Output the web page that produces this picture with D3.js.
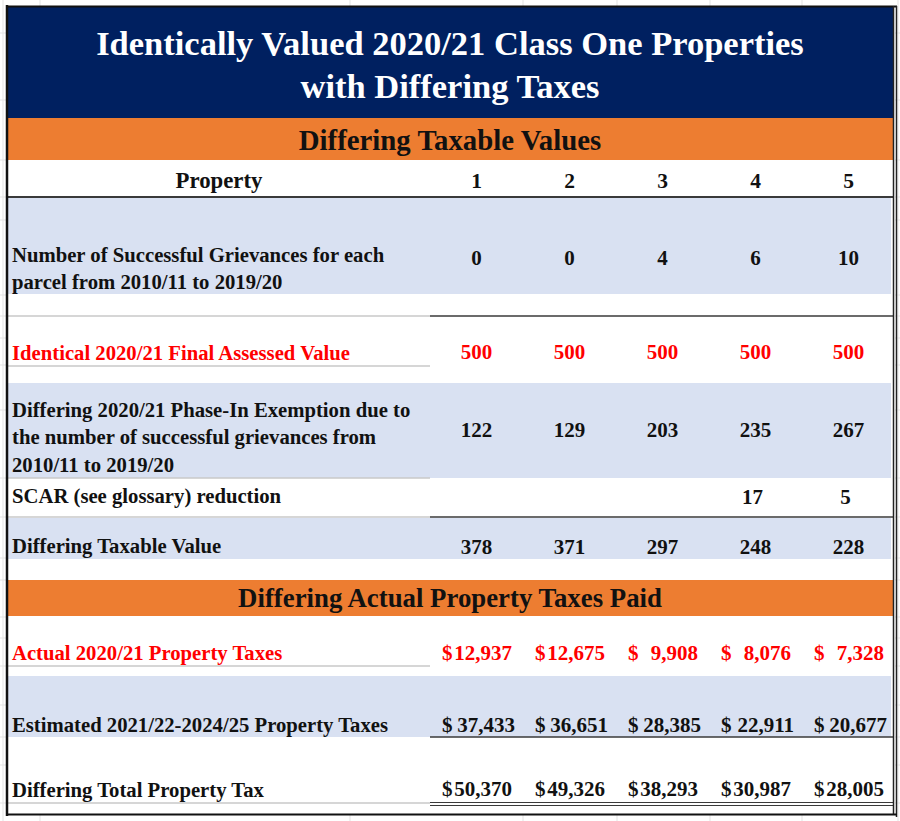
<!DOCTYPE html>
<html><head><meta charset="utf-8">
<script src="https://cdn.jsdelivr.net/npm/d3@7"></script>
<style>
body{margin:0;background:#fff}
svg{display:block}
text{font-family:"Liberation Serif","Times New Roman",serif;font-weight:bold}
</style>
</head><body>
<svg id="chart" width="900" height="821"></svg>
<script>
// ---------- data ----------
const titleLines = ["Identically Valued 2020/21 Class One Properties", "with Differing Taxes"];
const section1 = "Differing Taxable Values";
const section2 = "Differing Actual Property Taxes Paid";
const headerLabel = "Property";
const properties = ["1", "2", "3", "4", "5"];
const grievances = [0, 0, 4, 6, 10];
const assessedValue = [500, 500, 500, 500, 500];
const phaseInExemption = [122, 129, 203, 235, 267];
const scarReduction = [null, null, null, 17, 5];
const taxableValue = [378, 371, 297, 248, 228];
const actualTaxes = [12937, 12675, 9908, 8076, 7328];
const estimatedTaxes = [37433, 36651, 28385, 22911, 20677];
const totalTax = [50370, 49326, 38293, 30987, 28005];
const rowLabels = [
  ["Number of Successful Grievances for each", "parcel from 2010/11 to 2019/20"],
  ["Identical 2020/21 Final Assessed Value"],
  ["Differing 2020/21 Phase-In Exemption due to", "the number of successful grievances from", "2010/11 to 2019/20"],
  ["SCAR (see glossary) reduction"],
  ["Differing Taxable Value"],
  ["Actual 2020/21 Property Taxes"],
  ["Estimated 2021/22-2024/25 Property Taxes"],
  ["Differing Total Property Tax"]
];

// ---------- styles ----------
const NAVY = "#002060", ORANGE = "#ED7D31", BLUE = "#D9E1F2", RED = "#FF0000", INK = "#111111";
const GRID = "#e3e3e3", LIGHT = "#c9c9c9", DARK = "#3a3a3a";

const svg = d3.select("#chart");
const x = d3.scaleBand().domain(properties).range([430, 895]);
const num = d3.format(",");

// spreadsheet gridlines behind
const gridX = [3, 40, 350, 523, 617, 710, 802, 898];
const gridY = [33, 100, 160, 197, 220, 295, 316, 338, 365, 410, 478, 517, 558, 580, 617, 638, 666, 705, 737, 765, 803];
svg.append("g").selectAll("line").data(gridX).join("line")
  .attr("x1", d => d).attr("x2", d => d).attr("y1", 0).attr("y2", 821)
  .attr("stroke", GRID).attr("stroke-width", 1);
svg.append("g").selectAll("line").data(gridY).join("line")
  .attr("x1", 0).attr("x2", 900).attr("y1", d => d).attr("y2", d => d)
  .attr("stroke", GRID).attr("stroke-width", 1);

// table body background
svg.append("rect").attr("x", 7).attr("y", 6).attr("width", 888).attr("height", 809).attr("fill", "#fff");

// title band
svg.append("rect").attr("x", 8).attr("y", 7).attr("width", 885).attr("height", 111).attr("fill", NAVY);
svg.append("g").selectAll("text").data(titleLines).join("text")
  .attr("x", 450).attr("y", (d, i) => 55 + i * 43)
  .attr("text-anchor", "middle").attr("fill", "#fff").attr("font-size", 34.5)
  .text(d => d);

// section bands
const sections = [{t: section1, y0: 118, y1: 160, base: 150, size: 28.8}, {t: section2, y0: 580, y1: 616, base: 607, size: 26.8}];
sections.forEach(s => {
  svg.append("rect").attr("x", 8).attr("y", s.y0).attr("width", 885).attr("height", s.y1 - s.y0).attr("fill", ORANGE);
  svg.append("text").attr("x", 450).attr("y", s.base).attr("text-anchor", "middle")
    .attr("fill", INK).attr("font-size", s.size).text(s.t);
});

// header row
svg.append("text").attr("x", 219).attr("y", 188).attr("text-anchor", "middle").attr("fill", INK)
  .attr("font-size", 22.8).text(headerLabel);
svg.append("g").selectAll("text").data(properties).join("text")
  .attr("x", d => x(d) + x.bandwidth() / 2).attr("y", 188).attr("text-anchor", "middle")
  .attr("fill", INK).attr("font-size", 21.5).text(d => d);

// rows
const rows = [
  {lab: rowLabels[0], vals: grievances, bg: [197, 294], lb: [262, 289], vb: 265, color: INK, money: false},
  {lab: rowLabels[1], vals: assessedValue, bg: null, lb: [360], vb: 359, color: RED, money: false},
  {lab: rowLabels[2], vals: phaseInExemption, bg: [383, 478], lb: [417, 444, 472], vb: 437, color: INK, money: false},
  {lab: rowLabels[3], vals: scarReduction, bg: null, lb: [503], vb: 504, color: INK, money: false, shift: -3},
  {lab: rowLabels[4], vals: taxableValue, bg: [518, 559], lb: [553], vb: 554, color: INK, money: false},
  {lab: rowLabels[5], vals: actualTaxes, bg: null, lb: [660], vb: 660, color: RED, money: true, pad: 11},
  {lab: rowLabels[6], vals: estimatedTaxes, bg: [676, 737], lb: [732], vb: 732, color: INK, money: true, pad: 8},
  {lab: rowLabels[7], vals: totalTax, bg: null, lb: [797], vb: 796, color: INK, money: true, pad: 11}
];

rows.forEach(r => {
  if (r.bg) svg.append("rect").attr("x", 8).attr("y", r.bg[0]).attr("width", 883)
    .attr("height", r.bg[1] - r.bg[0]).attr("fill", BLUE);
});

// rule lines
const lightRules = [316, 366, 478, 517, 666, 803];
svg.append("g").selectAll("line").data(lightRules).join("line")
  .attr("x1", 8).attr("x2", 430).attr("y1", d => d).attr("y2", d => d)
  .attr("stroke", LIGHT).attr("stroke-width", 1.5);
const darkRules = [316, 517, 737];
svg.append("g").selectAll("line").data(darkRules).join("line")
  .attr("x1", 430).attr("x2", 893).attr("y1", d => d).attr("y2", d => d)
  .attr("stroke", DARK).attr("stroke-width", 1.6);
svg.append("line").attr("x1", 8).attr("x2", 893).attr("y1", 197).attr("y2", 197)
  .attr("stroke", DARK).attr("stroke-width", 1.8);
[802.5, 805.5].forEach(y => svg.append("line").attr("x1", 430).attr("x2", 893).attr("y1", y).attr("y2", y)
  .attr("stroke", DARK).attr("stroke-width", 1.2));

rows.forEach(r => {
  const g = svg.append("g").attr("fill", r.color);
  g.selectAll("text.lab").data(r.lab).join("text").attr("class", "lab")
    .attr("x", 12).attr("y", (d, i) => r.lb[i]).attr("font-size", 20.7).text(d => d);
  const cells = properties.map((p, i) => ({p, v: r.vals[i]})).filter(d => d.v !== null);
  if (!r.money) {
    g.selectAll("text.val").data(cells).join("text").attr("class", "val")
      .attr("x", d => x(d.p) + x.bandwidth() / 2 + (r.shift || 0)).attr("y", r.vb)
      .attr("text-anchor", "middle").attr("font-size", 21).text(d => num(d.v));
  } else {
    g.selectAll("text.cur").data(cells).join("text").attr("class", "cur")
      .attr("x", d => x(d.p) + 12).attr("y", r.vb).attr("font-size", 21).text("$");
    g.selectAll("text.val").data(cells).join("text").attr("class", "val")
      .attr("x", d => x(d.p) + x.bandwidth() - r.pad).attr("y", r.vb)
      .attr("text-anchor", "end").attr("font-size", 21).text(d => num(d.v));
  }
});

// outer border
svg.append("line").attr("x1", 7).attr("x2", 7).attr("y1", 5).attr("y2", 816).attr("stroke", "#111").attr("stroke-width", 2.5);
svg.append("line").attr("x1", 6).attr("x2", 897).attr("y1", 6.5).attr("y2", 6.5).attr("stroke", "#111").attr("stroke-width", 2);
svg.append("line").attr("x1", 893.5).attr("x2", 893.5).attr("y1", 6).attr("y2", 815).attr("stroke", "#222").attr("stroke-width", 1.5);
svg.append("line").attr("x1", 896.5).attr("x2", 896.5).attr("y1", 6).attr("y2", 817).attr("stroke", "#222").attr("stroke-width", 1.5);
svg.append("line").attr("x1", 6).attr("x2", 897).attr("y1", 814.5).attr("y2", 814.5).attr("stroke", "#111").attr("stroke-width", 2);
</script>
</body></html>
